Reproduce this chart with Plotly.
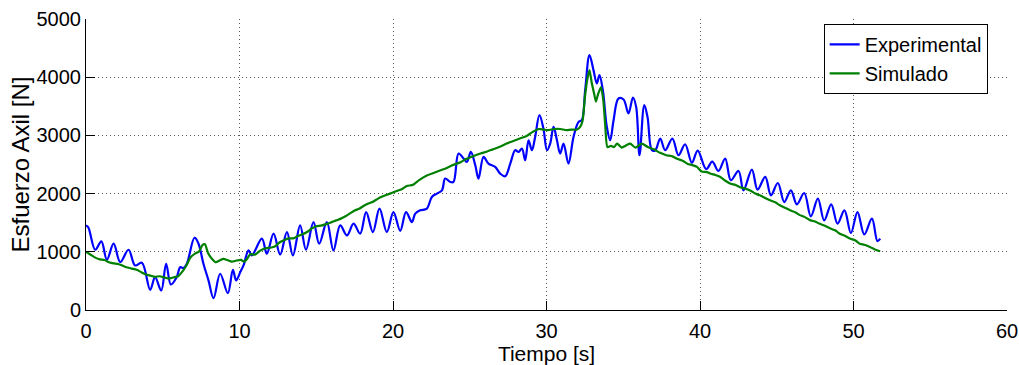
import plotly.graph_objects as go

# Experimental series (time [s], axial force [N])
exp_t = [0.0, 0.15, 0.6, 1.0, 1.36, 1.8, 2.23, 2.77, 3.2, 3.64, 4.18, 4.5, 4.9, 5.22, 5.53, 5.9, 6.14, 6.35,
         6.57, 7.07, 7.33, 7.65, 7.98, 8.31, 8.74, 9.24, 9.57, 9.78, 10.05, 10.26, 10.59, 10.8, 11.46, 11.78,
         12.22, 12.65, 13.09, 13.48, 13.95, 14.33, 14.82, 15.19, 15.69, 16.12, 16.56, 17.0, 17.43, 17.86,
         18.25, 18.69, 19.12, 19.6, 20.03, 20.47, 20.85, 21.23, 21.45, 21.77, 22.2, 22.53, 22.86, 23.19,
         23.4, 23.73, 23.94, 24.27, 24.6, 24.81, 25.07, 25.36, 25.57, 25.9, 26.22, 26.66, 26.98, 27.31,
         27.64, 27.96, 28.18, 28.4, 28.61, 28.83, 29.05, 29.26, 29.54, 29.8, 30.03, 30.24, 30.46, 30.68,
         30.89, 31.11, 31.43, 31.76, 32.09, 32.3, 32.52, 32.8, 33.06, 33.28, 33.45, 33.67, 33.93, 34.15,
         34.37, 34.69, 35.02, 35.34, 35.63, 35.84, 36.06, 36.37, 36.58, 36.87, 37.09, 37.41, 37.73, 38.2,
         38.6, 39.03, 39.47, 39.85, 40.4, 40.8, 41.2, 41.64, 42.01, 42.51, 42.83, 43.38, 43.75, 44.25,
         44.62, 45.07, 45.49, 45.92, 46.31, 46.79, 47.22, 47.68, 48.09, 48.55, 48.96, 49.41, 49.83, 50.26,
         50.7, 51.2, 51.56, 51.74]
exp_f = [1450, 1420, 1035, 1180, 864, 1139, 823, 1035, 766, 812, 347, 565, 335, 795, 439, 560, 736, 720,
         795, 1242, 1139, 795, 508, 203, 623, 289, 692, 508, 651, 766, 1024, 938, 1225, 967,
         1311, 955, 1339, 938, 1454, 1036, 1511, 1139, 1511, 1024, 1454, 1282, 1483, 1311,
         1683, 1339, 1741, 1339, 1683, 1360, 1683, 1511, 1655, 1712, 1741, 1941, 2000, 2057,
         2258, 2200, 2200, 2688, 2602, 2544, 2716, 2487, 2258, 2630, 2516, 2458, 2344, 2298,
         2516, 2745, 2716, 2774, 2573, 2917, 2745, 2974, 3347, 3118, 2745, 2860, 3146, 2917,
         2688, 2860, 2516, 2974, 3232, 3261, 3777, 4380, 4122, 3893, 4036, 3777, 3146, 2917,
         3261, 3634, 3617, 3376, 3651, 3490, 2659, 3519, 3318, 2745, 2745, 2946, 2745, 2946,
         2659, 2848, 2530, 2740, 2420, 2550, 2389, 2602, 2229, 2389, 2057, 2413, 2069, 2286,
         1971, 2182, 1855, 2057, 1816, 2010, 1609, 1914, 1540, 1816, 1483, 1712, 1322, 1683,
         1299, 1569, 1184, 1225]

# Simulated series
sim_t = [0.0, 0.3, 0.6, 0.9, 1.2, 1.5, 1.8, 2.1, 2.4, 2.7, 3.0, 3.3, 3.6, 3.9, 4.2, 4.5, 4.8, 5.1, 5.4,
         5.7, 6.0, 6.25, 6.55, 6.8, 7.1, 7.35, 7.6, 7.75, 7.95, 8.2, 8.45, 8.7, 8.95, 9.2, 9.5, 9.8, 10.1,
         10.3, 10.5, 10.7, 11.0, 11.35, 11.7, 12.0, 12.3, 12.6, 12.9, 13.2, 13.5, 13.8, 14.1, 14.4, 14.7,
         15.0, 15.3, 15.7, 16.0, 16.3, 16.6, 16.9, 17.2, 17.5, 17.8, 18.1, 18.4, 18.7, 19.0, 19.3, 19.6,
         20.0, 20.3, 20.6, 20.9, 21.3, 21.7, 22.2, 22.6, 23.1, 23.5, 23.9, 24.4, 24.8, 25.3, 25.7, 26.1,
         26.5, 27.0, 27.4, 27.8, 28.3, 28.7, 29.1, 29.5, 29.8, 30.1, 30.5, 30.9, 31.3, 31.6, 32.0, 32.2,
         32.35, 32.5, 32.65, 32.8, 32.95, 33.1, 33.22, 33.35, 33.55, 33.7, 33.82, 33.97, 34.2, 34.4, 34.6,
         34.9, 35.2, 35.45, 35.8, 36.2, 36.6, 37.0, 37.4, 37.8, 38.2, 38.5, 38.9, 39.2, 39.5, 39.8, 40.1,
         40.45, 40.7, 41.0, 41.3, 41.6, 42.0, 42.3, 42.6, 42.9, 43.3, 43.6, 43.9, 44.2, 44.6, 44.9, 45.2,
         45.5, 45.9, 46.2, 46.5, 46.8, 47.2, 47.5, 47.8, 48.1, 48.5, 48.8, 49.1, 49.4, 49.8, 50.1, 50.4,
         50.7, 51.1, 51.4, 51.74]
sim_f = [1000, 950, 900, 870, 860, 820, 800, 790, 760, 730, 710, 690, 650, 610, 590, 570, 580, 560, 540,
         560, 580, 650, 770, 900, 970, 1000, 1120, 1130, 980, 880, 820, 850, 880, 860, 830, 850, 860,
         830, 880, 960, 950, 1020, 1060, 1070, 1090, 1160, 1200, 1230, 1230, 1270, 1300, 1340, 1400,
         1440, 1450, 1480, 1510, 1540, 1570, 1610, 1660, 1710, 1740, 1790, 1830, 1860, 1910, 1950, 1980,
         2020, 2050, 2080, 2130, 2150, 2230, 2310, 2350, 2400, 2440, 2490, 2540, 2600, 2650, 2690, 2720,
         2760, 2810, 2860, 2900, 2950, 2990, 3060, 3110, 3100, 3090, 3110, 3110, 3090, 3100, 3100, 3150,
         3250, 3650, 3950, 4120, 3900, 3720, 3580, 3700, 3830, 3600, 3200, 2800, 2820, 2800, 2860,
         2790, 2830, 2860, 2790, 2860, 2800, 2760, 2700, 2660, 2640, 2600, 2560, 2510, 2490, 2460, 2380,
         2370, 2340, 2320, 2290, 2230, 2170, 2150, 2110, 2090, 2050, 2000, 1970, 1930, 1880, 1850, 1800,
         1760, 1710, 1680, 1630, 1600, 1540, 1520, 1480, 1450, 1400, 1370, 1310, 1280, 1225, 1200, 1140,
         1120, 1080, 1040, 1010]

x_ticks = [0, 10, 20, 30, 40, 50, 60]
y_ticks = [0, 1000, 2000, 3000, 4000, 5000]

FONT = "Liberation Sans, Arial, sans-serif"

fig = go.Figure()
fig.add_trace(go.Scatter(x=exp_t, y=exp_f, mode="lines", name="Experimental",
                         line=dict(color="#0000ff", width=2.2, shape="spline", smoothing=1.0)))
fig.add_trace(go.Scatter(x=sim_t, y=sim_f, mode="lines", name="Simulado",
                         line=dict(color="#008000", width=2.2, shape="spline", smoothing=0.6)))

axis_common = dict(
    showline=True, linecolor="black", linewidth=1, mirror=False,
    ticks="inside", ticklen=9, tickwidth=1, tickcolor="black",
    showgrid=True, gridcolor="#555555", gridwidth=1, griddash="1px,3px",
    zeroline=False, automargin=False,
    tickfont=dict(family=FONT, size=20, color="black"),
)

fig.update_layout(
    width=1019, height=365,
    margin=dict(l=86, r=12, t=19, b=55),
    paper_bgcolor="white", plot_bgcolor="white",
    font=dict(family=FONT, color="black"),
    xaxis=dict(range=[0, 60], tickvals=x_ticks, ticktext=[str(v) for v in x_ticks],
               ticklabelstandoff=3,
               title=dict(text="Tiempo [s]", font=dict(size=21), standoff=4), **axis_common),
    yaxis=dict(range=[0, 5000], tickvals=y_ticks, ticktext=[str(v) for v in y_ticks],
               ticklabelstandoff=0,
               title=dict(text="Esfuerzo Axil [N]", font=dict(size=24), standoff=0), **axis_common),
    legend=dict(x=0.979, y=0.983, xanchor="right", yanchor="top",
                bgcolor="white", bordercolor="black", borderwidth=1,
                font=dict(family=FONT, size=20, color="black"), tracegroupgap=0),
    showlegend=True,
)

fig.write_html("out.html")
